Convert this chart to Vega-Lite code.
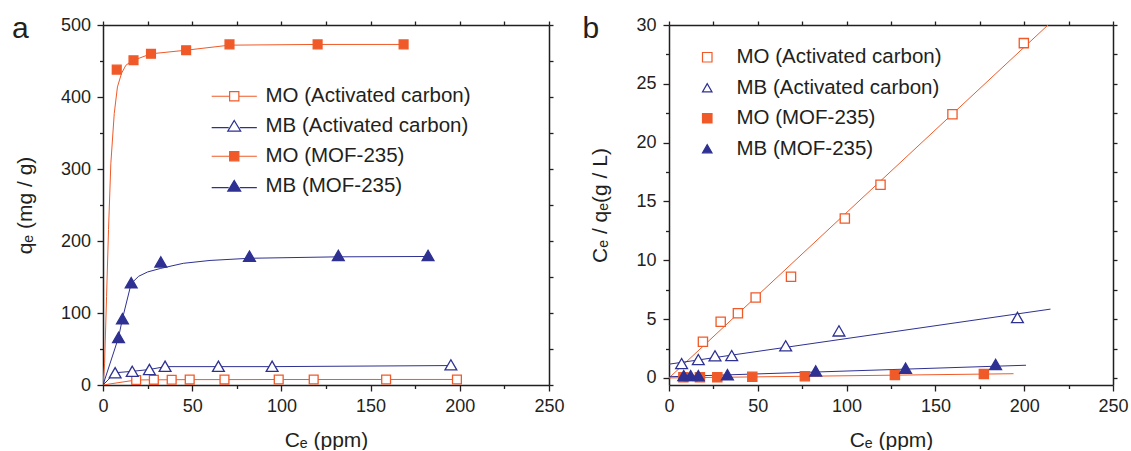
{
  "$schema": "https://vega.github.io/schema/vega-lite/v6.json",
  "padding": {"left": 12, "top": 14, "right": 2, "bottom": 0},
  "spacing": 17,
  "config": {
    "font": "Liberation Sans",
    "view": {"stroke": null},
    "axis": {
      "grid": false,
      "domainColor": "#231F20",
      "domainWidth": 1.5,
      "tickColor": "#231F20",
      "tickWidth": 1.3,
      "labelColor": "#231F20",
      "titleColor": "#231F20",
      "labelFont": "Liberation Sans",
      "titleFont": "Liberation Sans",
      "labelFontSize": 18,
      "titleFontSize": 21,
      "titleFontWeight": "normal",
      "labelOverlap": false,
      "labelFlush": false
    },
    "legend": {"labelFont": "Liberation Sans", "labelColor": "#231F20"}
  },
  "datasets": {
    "a_points": [
      {"series": "MO (Activated carbon)", "ce": 18.6, "qe": 7.0},
      {"series": "MO (Activated carbon)", "ce": 28.5, "qe": 7.2},
      {"series": "MO (Activated carbon)", "ce": 38.5, "qe": 7.3},
      {"series": "MO (Activated carbon)", "ce": 48.6, "qe": 7.5},
      {"series": "MO (Activated carbon)", "ce": 68.1, "qe": 7.5},
      {"series": "MO (Activated carbon)", "ce": 98.5, "qe": 7.6},
      {"series": "MO (Activated carbon)", "ce": 118.1, "qe": 7.6},
      {"series": "MO (Activated carbon)", "ce": 158.7, "qe": 7.7},
      {"series": "MO (Activated carbon)", "ce": 198.4, "qe": 7.7},
      {"series": "MB (Activated carbon)", "ce": 6.8, "qe": 17},
      {"series": "MB (Activated carbon)", "ce": 16.4, "qe": 19},
      {"series": "MB (Activated carbon)", "ce": 26, "qe": 21.5},
      {"series": "MB (Activated carbon)", "ce": 34.8, "qe": 26},
      {"series": "MB (Activated carbon)", "ce": 64.7, "qe": 26},
      {"series": "MB (Activated carbon)", "ce": 94.8, "qe": 26},
      {"series": "MB (Activated carbon)", "ce": 195, "qe": 28},
      {"series": "MO (MOF-235)", "ce": 7.7, "qe": 438},
      {"series": "MO (MOF-235)", "ce": 17.1, "qe": 451},
      {"series": "MO (MOF-235)", "ce": 26.9, "qe": 460},
      {"series": "MO (MOF-235)", "ce": 46.6, "qe": 465},
      {"series": "MO (MOF-235)", "ce": 70.9, "qe": 473},
      {"series": "MO (MOF-235)", "ce": 120.3, "qe": 473},
      {"series": "MO (MOF-235)", "ce": 168.5, "qe": 473},
      {"series": "MB (MOF-235)", "ce": 8.7, "qe": 66},
      {"series": "MB (MOF-235)", "ce": 10.9, "qe": 92},
      {"series": "MB (MOF-235)", "ce": 15.8, "qe": 142},
      {"series": "MB (MOF-235)", "ce": 32.4, "qe": 171},
      {"series": "MB (MOF-235)", "ce": 82.1, "qe": 179},
      {"series": "MB (MOF-235)", "ce": 131.9, "qe": 180},
      {"series": "MB (MOF-235)", "ce": 182.2, "qe": 180}
    ],
    "a_curves": [
      {"series": "MO (Activated carbon)", "ce": 0, "qe": 0},
      {"series": "MO (Activated carbon)", "ce": 18.6, "qe": 7.0},
      {"series": "MO (Activated carbon)", "ce": 28.5, "qe": 7.2},
      {"series": "MO (Activated carbon)", "ce": 38.5, "qe": 7.3},
      {"series": "MO (Activated carbon)", "ce": 48.6, "qe": 7.5},
      {"series": "MO (Activated carbon)", "ce": 68.1, "qe": 7.5},
      {"series": "MO (Activated carbon)", "ce": 98.5, "qe": 7.6},
      {"series": "MO (Activated carbon)", "ce": 118.1, "qe": 7.6},
      {"series": "MO (Activated carbon)", "ce": 158.7, "qe": 7.7},
      {"series": "MO (Activated carbon)", "ce": 198.4, "qe": 7.7},
      {"series": "MB (Activated carbon)", "ce": 0, "qe": 0},
      {"series": "MB (Activated carbon)", "ce": 6.8, "qe": 17},
      {"series": "MB (Activated carbon)", "ce": 16.4, "qe": 19},
      {"series": "MB (Activated carbon)", "ce": 26, "qe": 21.5},
      {"series": "MB (Activated carbon)", "ce": 34.8, "qe": 25.5},
      {"series": "MB (Activated carbon)", "ce": 64.7, "qe": 25.5},
      {"series": "MB (Activated carbon)", "ce": 94.8, "qe": 25.5},
      {"series": "MB (Activated carbon)", "ce": 195, "qe": 27},
      {"series": "MO (MOF-235)", "ce": 0, "qe": 0},
      {"series": "MO (MOF-235)", "ce": 0.9, "qe": 30},
      {"series": "MO (MOF-235)", "ce": 2.0, "qe": 123},
      {"series": "MO (MOF-235)", "ce": 3.1, "qe": 216},
      {"series": "MO (MOF-235)", "ce": 4.4, "qe": 308},
      {"series": "MO (MOF-235)", "ce": 6.3, "qe": 377},
      {"series": "MO (MOF-235)", "ce": 8.1, "qe": 414},
      {"series": "MO (MOF-235)", "ce": 10.4, "qe": 433},
      {"series": "MO (MOF-235)", "ce": 12.8, "qe": 444},
      {"series": "MO (MOF-235)", "ce": 15.6, "qe": 449},
      {"series": "MO (MOF-235)", "ce": 17.1, "qe": 451},
      {"series": "MO (MOF-235)", "ce": 26.9, "qe": 460},
      {"series": "MO (MOF-235)", "ce": 46.6, "qe": 465},
      {"series": "MO (MOF-235)", "ce": 70.9, "qe": 472},
      {"series": "MO (MOF-235)", "ce": 120.3, "qe": 473},
      {"series": "MO (MOF-235)", "ce": 168.5, "qe": 473},
      {"series": "MB (MOF-235)", "ce": 0, "qe": 0},
      {"series": "MB (MOF-235)", "ce": 8.7, "qe": 66},
      {"series": "MB (MOF-235)", "ce": 10.9, "qe": 92},
      {"series": "MB (MOF-235)", "ce": 15.8, "qe": 141},
      {"series": "MB (MOF-235)", "ce": 20, "qe": 151},
      {"series": "MB (MOF-235)", "ce": 25, "qe": 157},
      {"series": "MB (MOF-235)", "ce": 32.4, "qe": 162},
      {"series": "MB (MOF-235)", "ce": 45, "qe": 169},
      {"series": "MB (MOF-235)", "ce": 60, "qe": 173},
      {"series": "MB (MOF-235)", "ce": 82.1, "qe": 176},
      {"series": "MB (MOF-235)", "ce": 131.9, "qe": 178},
      {"series": "MB (MOF-235)", "ce": 182.2, "qe": 178.5}
    ],
    "b_points": [
      {"series": "MO (Activated carbon)", "ce": 19.1, "ratio": 3.07},
      {"series": "MO (Activated carbon)", "ce": 29.1, "ratio": 4.77},
      {"series": "MO (Activated carbon)", "ce": 38.8, "ratio": 5.5},
      {"series": "MO (Activated carbon)", "ce": 48.8, "ratio": 6.84},
      {"series": "MO (Activated carbon)", "ce": 68.7, "ratio": 8.6},
      {"series": "MO (Activated carbon)", "ce": 99.0, "ratio": 13.55},
      {"series": "MO (Activated carbon)", "ce": 119.1, "ratio": 16.42},
      {"series": "MO (Activated carbon)", "ce": 159.6, "ratio": 22.42},
      {"series": "MO (Activated carbon)", "ce": 199.8, "ratio": 28.46},
      {"series": "MB (Activated carbon)", "ce": 7.1, "ratio": 1.22},
      {"series": "MB (Activated carbon)", "ce": 16.5, "ratio": 1.56},
      {"series": "MB (Activated carbon)", "ce": 25.9, "ratio": 1.88},
      {"series": "MB (Activated carbon)", "ce": 35.3, "ratio": 1.9},
      {"series": "MB (Activated carbon)", "ce": 65.7, "ratio": 2.73},
      {"series": "MB (Activated carbon)", "ce": 95.7, "ratio": 4.0},
      {"series": "MB (Activated carbon)", "ce": 196.2, "ratio": 5.14},
      {"series": "MO (MOF-235)", "ce": 8.1, "ratio": 0.05},
      {"series": "MO (MOF-235)", "ce": 17.4, "ratio": 0.05},
      {"series": "MO (MOF-235)", "ce": 27.2, "ratio": 0.05},
      {"series": "MO (MOF-235)", "ce": 46.9, "ratio": 0.1},
      {"series": "MO (MOF-235)", "ce": 76.5, "ratio": 0.15},
      {"series": "MO (MOF-235)", "ce": 127.2, "ratio": 0.25},
      {"series": "MO (MOF-235)", "ce": 177.3, "ratio": 0.33},
      {"series": "MB (MOF-235)", "ce": 8.3, "ratio": 0.2},
      {"series": "MB (MOF-235)", "ce": 12.2, "ratio": 0.2},
      {"series": "MB (MOF-235)", "ce": 16.5, "ratio": 0.2},
      {"series": "MB (MOF-235)", "ce": 32.9, "ratio": 0.28},
      {"series": "MB (MOF-235)", "ce": 82.6, "ratio": 0.6},
      {"series": "MB (MOF-235)", "ce": 133.2, "ratio": 0.82},
      {"series": "MB (MOF-235)", "ce": 183.9, "ratio": 1.15}
    ],
    "b_lines": [
      {"series": "MO (Activated carbon)", "ce": 0, "ratio": 0},
      {"series": "MO (Activated carbon)", "ce": 213.4, "ratio": 30},
      {"series": "MB (Activated carbon)", "ce": 0, "ratio": 1.17},
      {"series": "MB (Activated carbon)", "ce": 214.8, "ratio": 5.85},
      {"series": "MO (MOF-235)", "ce": 0, "ratio": 0},
      {"series": "MO (MOF-235)", "ce": 194, "ratio": 0.36},
      {"series": "MB (MOF-235)", "ce": 0, "ratio": 0.1},
      {"series": "MB (MOF-235)", "ce": 201, "ratio": 1.08}
    ]
  },
  "hconcat": [
    {
      "width": 446,
      "height": 360,
      "title": {"text": "a", "anchor": "start", "frame": "group", "dx": -91, "offset": -28, "fontSize": 30, "fontWeight": "normal", "color": "#231F20", "font": "Liberation Sans"},
      "layer": [
        {
          "data": {"name": "a_curves"},
          "mark": {"type": "line", "strokeWidth": 1, "clip": true},
          "encoding": {
            "x": {"field": "ce", "type": "quantitative", "scale": {"domain": [0, 250], "nice": false, "zero": false},
              "axis": {"orient": "bottom", "values": [0, 25, 50, 75, 100, 125, 150, 175, 200, 225, 250], "labelExpr": "datum.value % 50 === 0 ? datum.label : ''", "tickSize": {"condition": {"test": "datum.value % 50 === 0", "value": 6}, "value": 3.5}, "labelPadding": 6, "title": "Cₑ (ppm)", "titlePadding": 14}},
            "y": {"field": "qe", "type": "quantitative", "scale": {"domain": [0, 500], "nice": false, "zero": false},
              "axis": {"orient": "left", "values": [0, 50, 100, 150, 200, 250, 300, 350, 400, 450, 500], "labelExpr": "datum.value % 100 === 0 ? datum.label : ''", "tickSize": {"condition": {"test": "datum.value % 100 === 0", "value": 6}, "value": 3.5}, "labelPadding": 6.5, "title": "qₑ (mg / g)", "titlePadding": 25}},
            "detail": {"field": "series", "type": "nominal"},
            "color": {"condition": {"test": "indexof(datum.series, 'MO') === 0", "value": "#F05A28"}, "value": "#2E3192"}
          }
        },
        {
          "data": {"name": "a_points"},
          "mark": {"type": "point", "filled": true, "opacity": 1, "strokeWidth": 1.3, "clip": true},
          "encoding": {
            "x": {"field": "ce", "type": "quantitative", "axis": {"orient": "top", "values": [0, 25, 50, 75, 100, 125, 150, 175, 200, 225, 250], "labels": false, "title": null, "tickSize": 4}},
            "y": {"field": "qe", "type": "quantitative", "axis": {"orient": "right", "values": [0, 50, 100, 150, 200, 250, 300, 350, 400, 450, 500], "labels": false, "title": null, "tickSize": 4}},
            "shape": {"field": "series", "type": "nominal", "scale": {"domain": ["MB (Activated carbon)", "MO (Activated carbon)", "MB (MOF-235)", "MO (MOF-235)"], "range": ["triangle-up", "square", "triangle-up", "square"]}, "legend": null},
            "fill": {"field": "series", "type": "nominal", "scale": {"domain": ["MO (Activated carbon)", "MB (Activated carbon)", "MO (MOF-235)", "MB (MOF-235)"], "range": ["#ffffff", "#ffffff", "#F05A28", "#2E3192"]},
              "legend": {"title": null, "orient": "none", "legendX": 121, "legendY": 61, "padding": 0, "labelFontSize": 20.5, "labelLimit": 400, "symbolSize": 85, "symbolStrokeWidth": 1.2, "rowPadding": 9, "labelOffset": 21,
                "symbolType": {"expr": "indexof(datum.value, 'MO') === 0 ? 'M-4.9,0H-1M1,0H4.9M-1,-1H1V1H-1Z' : 'M-4.9,0.3H-1.2M1.2,0.3H4.9M0,-1.25L1.4,1.05H-1.4Z'"}}},
            "stroke": {"field": "series", "type": "nominal", "scale": {"domain": ["MO (Activated carbon)", "MB (Activated carbon)", "MO (MOF-235)", "MB (MOF-235)"], "range": ["#F05A28", "#2E3192", "#F05A28", "#2E3192"]},
              "legend": {"title": null, "orient": "none", "legendX": 121, "legendY": 61, "padding": 0, "labelFontSize": 20.5, "labelLimit": 400, "symbolSize": 85, "symbolStrokeWidth": 1.2, "rowPadding": 9, "labelOffset": 21,
                "symbolType": {"expr": "indexof(datum.value, 'MO') === 0 ? 'M-4.9,0H-1M1,0H4.9M-1,-1H1V1H-1Z' : 'M-4.9,0.3H-1.2M1.2,0.3H4.9M0,-1.25L1.4,1.05H-1.4Z'"}}},
            "size": {"condition": {"test": "indexof(datum.series, 'MB') === 0", "value": 140}, "value": 78}
          }
        }
      ],
      "resolve": {"axis": {"x": "independent", "y": "independent"}}
    },
    {
      "width": 444,
      "height": 360,
      "title": {"text": "b", "anchor": "start", "frame": "group", "dx": -86.6, "offset": -28, "fontSize": 30, "fontWeight": "normal", "color": "#231F20", "font": "Liberation Sans"},
      "layer": [
        {
          "data": {"name": "b_lines"},
          "mark": {"type": "line", "strokeWidth": 1, "clip": true},
          "encoding": {
            "x": {"field": "ce", "type": "quantitative", "scale": {"domain": [0, 250], "nice": false, "zero": false},
              "axis": {"orient": "bottom", "values": [0, 25, 50, 75, 100, 125, 150, 175, 200, 225, 250], "labelExpr": "datum.value % 50 === 0 ? datum.label : ''", "tickSize": {"condition": {"test": "datum.value % 50 === 0", "value": 6}, "value": 3.5}, "labelPadding": 6, "title": "Cₑ (ppm)", "titlePadding": 14}},
            "y": {"field": "ratio", "type": "quantitative", "scale": {"domain": [-0.6, 30], "nice": false, "zero": false},
              "axis": {"orient": "left", "values": [0, 2.5, 5, 7.5, 10, 12.5, 15, 17.5, 20, 22.5, 25, 27.5, 30], "labelExpr": "datum.value % 5 === 0 ? datum.label : ''", "tickSize": {"condition": {"test": "datum.value % 5 === 0", "value": 6}, "value": 3.5}, "labelPadding": 7, "title": "Cₑ / qₑ(g / L)", "titlePadding": 25}},
            "detail": {"field": "series", "type": "nominal"},
            "color": {"condition": {"test": "indexof(datum.series, 'MO') === 0", "value": "#F05A28"}, "value": "#2E3192"}
          }
        },
        {
          "data": {"name": "b_points"},
          "mark": {"type": "point", "filled": true, "opacity": 1, "strokeWidth": 1.3, "clip": true},
          "encoding": {
            "x": {"field": "ce", "type": "quantitative", "axis": {"orient": "top", "values": [0, 25, 50, 75, 100, 125, 150, 175, 200, 225, 250], "labels": false, "title": null, "tickSize": 4}},
            "y": {"field": "ratio", "type": "quantitative", "axis": {"orient": "right", "values": [0, 2.5, 5, 7.5, 10, 12.5, 15, 17.5, 20, 22.5, 25, 27.5, 30], "labels": false, "title": null, "tickSize": 4}},
            "shape": {"field": "series", "type": "nominal", "scale": {"domain": ["MO (Activated carbon)", "MB (Activated carbon)", "MO (MOF-235)", "MB (MOF-235)"], "range": ["square", "triangle-up", "square", "triangle-up"]},
              "legend": {"title": null, "orient": "none", "legendX": 28, "legendY": 22, "padding": 0, "labelFontSize": 20.5, "labelLimit": 400, "symbolSize": 90, "symbolStrokeWidth": 1.2, "rowPadding": 9.5, "labelOffset": 19,
                "encode": {"symbols": {"size": {"condition": {"test": "indexof(datum.value, 'MB') === 0", "value": 135}, "value": 85}}}}},
            "fill": {"field": "series", "type": "nominal", "scale": {"domain": ["MO (Activated carbon)", "MB (Activated carbon)", "MO (MOF-235)", "MB (MOF-235)"], "range": ["#ffffff", "#ffffff", "#F05A28", "#2E3192"]},
              "legend": {"title": null, "orient": "none", "legendX": 28, "legendY": 22, "padding": 0, "labelFontSize": 20.5, "labelLimit": 400, "symbolSize": 90, "symbolStrokeWidth": 1.2, "rowPadding": 9.5, "labelOffset": 19}},
            "stroke": {"field": "series", "type": "nominal", "scale": {"domain": ["MO (Activated carbon)", "MB (Activated carbon)", "MO (MOF-235)", "MB (MOF-235)"], "range": ["#F05A28", "#2E3192", "#F05A28", "#2E3192"]},
              "legend": {"title": null, "orient": "none", "legendX": 28, "legendY": 22, "padding": 0, "labelFontSize": 20.5, "labelLimit": 400, "symbolSize": 90, "symbolStrokeWidth": 1.2, "rowPadding": 9.5, "labelOffset": 19}},
            "size": {"condition": {"test": "indexof(datum.series, 'MB') === 0", "value": 140}, "value": 85}
          }
        }
      ],
      "resolve": {"axis": {"x": "independent", "y": "independent"}}
    }
  ],
  "resolve": {
    "scale": {"x": "independent", "y": "independent", "fill": "independent", "stroke": "independent", "shape": "independent"},
    "legend": {"fill": "independent", "stroke": "independent", "shape": "independent"}
  }
}
